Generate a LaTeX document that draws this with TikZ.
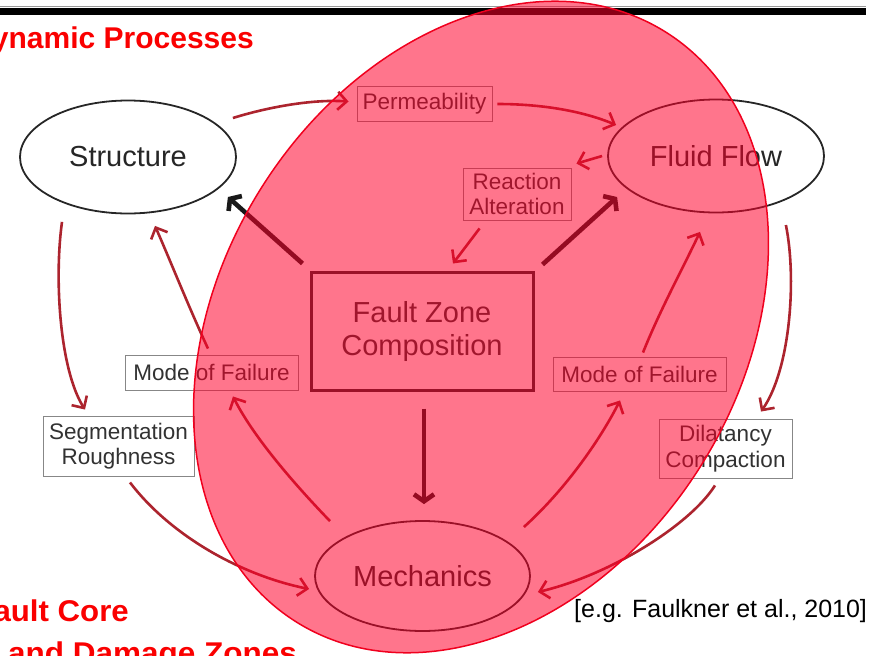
\documentclass[tikz,border=0pt]{standalone}
\usepackage{fontspec}
\setmainfont{Liberation Sans}
\usetikzlibrary{shapes.geometric,arrows.meta}
\definecolor{arrred}{RGB}{172,36,46}
\definecolor{lbl}{RGB}{50,50,50}
\definecolor{boxgray}{RGB}{135,135,135}
\definecolor{ovl}{RGB}{255,0,42}
\definecolor{ovledge}{RGB}{240,0,30}
\definecolor{titlered}{RGB}{250,0,0}
\begin{document}
\begin{tikzpicture}[x=1pt,y=1pt,
  oval/.style={ellipse, draw=black!85, line width=1.8pt, minimum width=216pt, minimum height=113pt, inner sep=0pt, text=black!85, font=\fontsize{29}{32}\selectfont},
  lab/.style={draw=boxgray, line width=0.9pt, text=lbl, font=\fontsize{22.5}{25.5}\selectfont, align=center, inner sep=0pt},
  core/.style={draw=black!85, line width=3pt, text=lbl, font=\fontsize{29}{33}\selectfont, align=center, inner sep=0pt, minimum width=222pt, minimum height=118pt},
  ra/.style={draw=arrred, line width=2.6pt, -{Straight Barb[length=9pt,width=18pt]}},
  ba/.style={draw=black!90, line width=4.6pt, -{Straight Barb[length=7pt,width=20pt]}},
  ttl/.style={text=titlered, font=\bfseries\fontsize{30}{34}\selectfont, inner sep=0pt}
]
\useasboundingbox (0,-656) rectangle (879,0);
\clip (0,-656) rectangle (879,0);

% top rules
\fill[black!40] (0,-5.5) rectangle (866,-6.6);
\fill[black] (0,-7.5) rectangle (866,-14.5);

% titles
\node[ttl, anchor=base east] (t1) at (254,-48) {Dynamic Processes};
\node[ttl, anchor=base east] (t2) at (129,-621) {\scalebox{1.04}[1]{Fault Core}};
\node[ttl, anchor=base west] (t3) at (8,-663) {\scalebox{1.05}[1]{and Damage Zones}};
\node[anchor=base west, inner sep=0pt, font=\fontsize{25}{28}\selectfont] (cite) at (574,-617) {[e.g. Faulkner et al., 2010]};

% main nodes
\node[oval] (S) at (128,-157) {Structure};
\node[oval] (F) at (716,-156) {Fluid Flow};
\node[oval, minimum width=215pt, minimum height=110pt] (M) at (422.5,-576) {Mechanics};
\node[core] (Z) at (422,-331) {Fault Zone\\Composition};

% labels
\node[lab, minimum width=135pt, minimum height=35pt] (P) at (424.5,-103.5) {Permeability};
\node[lab, minimum width=108pt, minimum height=52pt] (R) at (517,-194) {Reaction\\Alteration};
\node[lab, minimum width=173pt, minimum height=35pt] (ML) at (211.5,-372.5) {Mode of Failure};
\node[lab, minimum width=151pt, minimum height=60pt] (SR) at (118.5,-446) {Segmentation\\Roughness};
\node[lab, minimum width=173pt, minimum height=34pt] (MR) at (639.5,-374) {Mode of Failure};
\node[lab, minimum width=133pt, minimum height=59pt] (D) at (725.5,-448.5) {Dilatancy\\Compaction};

% red connectors
\draw[ra] ([shift={(-4,39)}]S.east) .. controls (265,-108) and (310,-99) .. ([shift={(-8,2)}]P.west);
\draw[ra] ([shift={(5,-0.5)}]P.east) .. controls (545,-104) and (585,-112) .. ([shift={(9,31)}]F.west);
\draw[ra] ([shift={(-5,0)}]F.west) -- ([shift={(5,4)}]R.north east);
\draw[ra] ([shift={(17,-8)}]R.south west) -- ([shift={(31,7)}]Z.north);
\draw[ra] ([shift={(-66,-7.5)}]S.south) .. controls (54,-280) and (60,-370) .. ([shift={(-33.5,6)}]SR.north);
\draw[ra] ([shift={(11.5,-6)}]SR.south) .. controls (170,-535) and (240,-575) .. ([shift={(-5,-13)}]M.west);
\draw[ra] ([shift={(-92.5,-1)}]M.north) .. controls (300,-490) and (255,-440) .. ([shift={(21.5,-6)}]ML.south);
\draw[ra] ([shift={(-3.5,6)}]ML.north) .. controls (190,-310) and (170,-260) .. ([shift={(27,-11.5)}]S.south);
\draw[ra] ([shift={(-7,49)}]M.east) .. controls (565,-490) and (600,-440) .. ([shift={(-19.5,-9)}]MR.south);
\draw[ra] ([shift={(3.5,4)}]MR.north) .. controls (660,-310) and (682,-270) .. ([shift={(-16,-18.5)}]F.south);
\draw[ra] ([shift={(-39,-69)}]F.east) .. controls (797,-280) and (790,-370) .. ([shift={(35.5,7)}]D.north);
\draw[ra] ([shift={(-10.5,-7)}]D.south) .. controls (690,-525) and (610,-575) .. ([shift={(7,-16)}]M.east);

% black connectors
\draw[ba] ([shift={(-7,7)}]Z.north west) -- ([shift={(-9,-40)}]S.east);
\draw[ba] ([shift={(8,6)}]Z.north east) -- ([shift={(10,-41)}]F.west);
\draw[ba] ([shift={(2,-17)}]Z.south) -- ([shift={(1.5,16)}]M.north);

% translucent overlay
\path[fill=ovl, fill opacity=0.54, draw=ovledge, line width=1.5pt, rotate around={-32:(481,-327)}]
  (481,-327) ellipse [x radius=260, y radius=348];
\end{tikzpicture}
\end{document}
